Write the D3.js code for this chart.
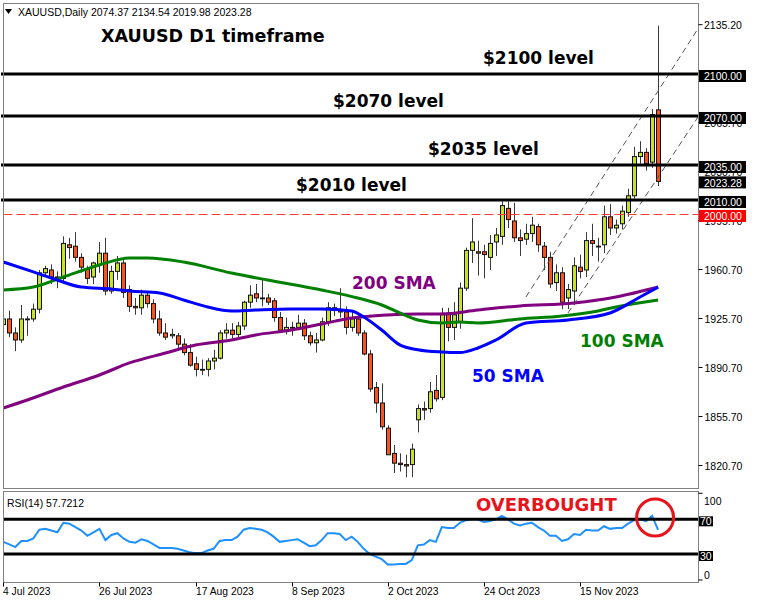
<!DOCTYPE html>
<html><head><meta charset="utf-8">
<script src="https://cdn.jsdelivr.net/npm/d3@7"></script>
<style>body{margin:0;background:#fff}svg{display:block}</style>
</head><body><svg id="c" width="782" height="606"></svg>
<script>
// ---------------- DATA ----------------
const dates = [
"2023-07-04","2023-07-05","2023-07-06","2023-07-07","2023-07-10","2023-07-11","2023-07-12","2023-07-13","2023-07-14","2023-07-17",
"2023-07-18","2023-07-19","2023-07-20","2023-07-21","2023-07-24","2023-07-25","2023-07-26","2023-07-27","2023-07-28","2023-07-31",
"2023-08-01","2023-08-02","2023-08-03","2023-08-04","2023-08-07","2023-08-08","2023-08-09","2023-08-10","2023-08-11","2023-08-14",
"2023-08-15","2023-08-16","2023-08-17","2023-08-18","2023-08-21","2023-08-22","2023-08-23","2023-08-24","2023-08-25","2023-08-28",
"2023-08-29","2023-08-30","2023-08-31","2023-09-01","2023-09-04","2023-09-05","2023-09-06","2023-09-07","2023-09-08","2023-09-11",
"2023-09-12","2023-09-13","2023-09-14","2023-09-15","2023-09-18","2023-09-19","2023-09-20","2023-09-21","2023-09-22","2023-09-25",
"2023-09-26","2023-09-27","2023-09-28","2023-09-29","2023-10-02","2023-10-03","2023-10-04","2023-10-05","2023-10-06","2023-10-09",
"2023-10-10","2023-10-11","2023-10-12","2023-10-13","2023-10-16","2023-10-17","2023-10-18","2023-10-19","2023-10-20","2023-10-23",
"2023-10-24","2023-10-25","2023-10-26","2023-10-27","2023-10-30","2023-10-31","2023-11-01","2023-11-02","2023-11-03","2023-11-06",
"2023-11-07","2023-11-08","2023-11-09","2023-11-10","2023-11-13","2023-11-14","2023-11-15","2023-11-16","2023-11-17","2023-11-20",
"2023-11-21","2023-11-22","2023-11-23","2023-11-24","2023-11-27","2023-11-28","2023-11-29","2023-11-30","2023-12-01","2023-12-04"];

const opens = [1921,1925,1915,1910,1925,1925,1932,1958,1960,1955, 1954,1978,1977,1969,1961,1955,1964,1972,1945,1959,
 1965,1946,1934,1933,1942,1936,1925,1915,1913,1913, 1907,1901,1893,1889,1889,1895,1897,1915,1917,1914,
 1920,1937,1943,1940,1940,1938,1926,1917,1919,1919, 1922,1913,1908,1910,1923,1933,1931,1930,1919,1925,
 1915,1900,1876,1865,1847,1829,1822,1821,1821,1853, 1861,1861,1874,1869,1929,1919,1923,1947,1974,1973,
 1973,1969,1980,1984,2004,1995,1983,1982,1986,1991, 1977,1969,1951,1958,1940,1945,1962,1960,1981,1977,
 1978,1998,1990,1993,2001,2013,2041,2044,2037,2074.37];
const highs = [1927,1931,1919,1935,1927,1936,1960,1963,1964,1959, 1984,1983,1987,1972,1963,1966,1980,1983,1963,1970,
 1967,1949,1940,1946,1945,1939,1931,1922,1918,1915, 1911,1907,1898,1896,1897,1903,1917,1922,1922,1923,
 1938,1949,1950,1953,1943,1940,1930,1926,1923,1928, 1925,1916,1915,1926,1937,1936,1947,1934,1930,1929,
 1917,1903,1880,1879,1849,1835,1829,1828,1836,1864, 1866,1880,1885,1933,1933,1937,1951,1976,1997,1981,
 1978,1985,1990,2009,2009,2008,1989,1993,1998,1993, 1980,1973,1964,1962,1950,1969,1971,1987,1993,1983,
 2006,2007,1996,2006,2018,2048,2052,2047,2075,2134.54];
const lows = [1917,1912,1902,1908,1913,1923,1929,1955,1950,1947, 1952,1968,1966,1958,1950,1950,1958,1942,1943,1953,
 1940,1930,1928,1928,1933,1922,1913,1910,1911,1903, 1899,1891,1884,1885,1884,1889,1896,1911,1911,1912,
 1917,1933,1937,1934,1935,1923,1915,1914,1913,1917, 1910,1906,1901,1909,1920,1927,1926,1914,1916,1913,
 1899,1873,1858,1846,1828,1815,1816,1812,1812,1844, 1853,1858,1866,1867,1909,1910,1918,1945,1965,1956,
 1954,1960,1970,1978,1990,1980,1970,1978,1980,1973, 1960,1947,1945,1932,1932,1935,1954,1955,1970,1966,
 1972,1985,1986,1989,1998,2011,2036,2031,2033,2019.98];
const closes = [1925,1915,1910,1925,1925,1932,1958,1961,1955,1955, 1979,1976,1969,1962,1954,1965,1972,1945,1959,1965,
 1944,1934,1933,1942,1936,1925,1915,1912,1914,1907, 1901,1892,1889,1889,1895,1897,1915,1917,1914,1920,
 1937,1942,1940,1940,1937,1926,1917,1919,1919,1922, 1913,1908,1910,1923,1933,1931,1930,1919,1925,1915,
 1900,1875,1865,1848,1828,1822,1821,1820,1832,1861, 1860,1873,1868,1929,1919,1928,1947,1974,1980,1972,
 1971,1979,1985,2006,1996,1983,1981,1986,1992,1978, 1969,1950,1958,1937,1946,1963,1959,1981,1979,1977,
 1998,1990,1992,2002,2013,2041,2044,2036,2071,2023.28];

const rsiValues = [44,41,38,45,45,48,58,59,57,55, 66,65,61,57,51,55,59,46,52,54,
 48,44,43,47,45,41,37,37,37,36, 34,32,31,31,34,36,45,46,46,50,
 58,60,59,58,55,50,44,45,46,47, 43,39,40,46,54,54,53,46,50,44,
 36,30,27,24,18,18,18.5,18.5,23,40, 41,46,44,61,60,60,66,69,70,70,
 67,68,70,74,70,65,63,65,66,61, 57,51,51,45,47,53,52,58,57,57,
 62,59,60,60,65,69,70,68,74,57.72];

// moving averages: [date, price]
const sma50 = [["2023-07-04",1965.7],["2023-07-11",1958.6],["2023-07-14",1954.3],["2023-07-21",1947.8],["2023-07-28",1946.4],
 ["2023-08-02",1945.0],["2023-08-09",1943.6],["2023-08-15",1938.6],["2023-08-21",1933.6],["2023-08-25",1930.7],
 ["2023-08-31",1931.4],["2023-09-08",1932.1],["2023-09-15",1932.1],["2023-09-22",1930.7],["2023-09-26",1926.4],
 ["2023-09-29",1917.1],["2023-10-04",1906.5],["2023-10-09",1903.0],["2023-10-13",1901.4],["2023-10-18",1901.0],
 ["2023-10-23",1904.3],["2023-10-26",1910.0],["2023-11-02",1922.1],["2023-11-13",1924.3],["2023-11-22",1929.3],
 ["2023-11-29",1940.7],["2023-12-04",1947.8]];
const sma100 = [["2023-07-04",1945.7],["2023-07-11",1947.8],["2023-07-18",1955.0],["2023-07-26",1963.6],["2023-08-02",1968.6],
 ["2023-08-07",1968.6],["2023-08-15",1965.7],["2023-08-25",1957.8],["2023-09-04",1952.8],["2023-09-15",1945.7],
 ["2023-09-25",1940.0],["2023-09-29",1935.0],["2023-10-04",1929.3],["2023-10-09",1924.3],["2023-10-13",1922.1],
 ["2023-10-18",1922.8],["2023-10-23",1922.1],["2023-11-01",1925.0],["2023-11-10",1927.1],["2023-11-20",1930.7],
 ["2023-11-23",1933.6],["2023-12-04",1938.6]];
const sma200 = [["2023-07-04",1861.4],["2023-07-10",1867.1],["2023-07-18",1876.4],["2023-07-26",1885.0],["2023-08-02",1893.6],
 ["2023-08-10",1900.7],["2023-08-17",1906.4],["2023-08-25",1910.0],["2023-08-31",1913.6],["2023-09-08",1917.1],
 ["2023-09-15",1921.4],["2023-09-22",1925.7],["2023-10-02",1927.9],["2023-10-09",1928.6],["2023-10-13",1928.6],
 ["2023-10-23",1931.4],["2023-11-01",1934.3],["2023-11-14",1936.4],["2023-11-23",1940.7],["2023-12-04",1947.8]];

const priceTicks = [1820.7,1855.7,1890.7,1925.7,1960.7,1995.7,2030.7,2065.7];
const topPrice = 2135.20;
const levels = [2100, 2070, 2035, 2010];
const levelTexts = ["$2100 level","$2070 level","$2035 level","$2010 level"];
const dashedLevel = 2000;
const lastPrice = 2023.28;
// channel rays: [bar number, price]
const channelUpper = [[87,1940.7],[115.65,2132.4]];
const channelLower = [[94,1929.3],[115.65,2069.3]];
const timeTicks = ["2023-07-04","2023-07-26","2023-08-17","2023-09-08","2023-10-02","2023-10-24","2023-11-15"];
const timeLabels = ["4 Jul 2023","26 Jul 2023","17 Aug 2023","8 Sep 2023","2 Oct 2023","24 Oct 2023","15 Nov 2023"];
const rsiLevels = [70, 30];
const rsiTicks = [100, 0];

// ---------------- DRAW ----------------
const svg = d3.select("#c");
const L = 3.5, R = 698.5, T = 3.5, B = 488.5, RT = 491.5, RB = 582.5;
const x = d3.scaleLinear().domain([0, dates.length - 1]).range([3.3, 658.1]);
const y = d3.scaleLinear().domain([1820.7, 2135.2]).range([465, 24.7]);
const yr = d3.scaleLinear().domain([0, 100]).range([580, 493.3]);
const di = d => dates.indexOf(d);
const AX = "Liberation Sans, Arial, sans-serif";
const BOLD = "DejaVu Sans, Verdana, sans-serif";

svg.append("rect").attr("width", 782).attr("height", 606).attr("fill", "#fff");
const defs = svg.append("defs");
defs.append("clipPath").attr("id", "mc").append("rect").attr("x", L).attr("y", T).attr("width", R - L).attr("height", B - T);
defs.append("clipPath").attr("id", "rc").append("rect").attr("x", L).attr("y", RT).attr("width", R - L).attr("height", RB - RT);

const g = svg.append("g").attr("clip-path", "url(#mc)");
const bars = dates.map((d, i) => ({ i, o: opens[i], h: highs[i], l: lows[i], c: closes[i] }));
const cx = b => Math.round(x(b.i));
g.selectAll("line.w").data(bars).join("line").attr("class", "w")
  .attr("x1", b => cx(b) + 0.5).attr("x2", b => cx(b) + 0.5)
  .attr("y1", b => y(b.h)).attr("y2", b => y(b.l))
  .attr("stroke", "#3a3a3a").attr("stroke-width", 1);
g.selectAll("rect.b").data(bars).join("rect").attr("class", "b")
  .attr("x", b => cx(b) - 1.5).attr("width", 4)
  .attr("y", b => y(Math.max(b.o, b.c)))
  .attr("height", b => Math.max(0.8, Math.abs(y(b.o) - y(b.c))))
  .attr("fill", b => b.c >= b.o ? "#c8e22a" : "#f6561c")
  .attr("stroke", "#111").attr("stroke-width", 1);

const smaLine = d3.line().x(p => x(di(p[0]))).y(p => y(p[1])).curve(d3.curveMonotoneX);
[[sma200, "#800080"], [sma100, "#008000"], [sma50, "#0000ff"]].forEach(([s, col]) => {
  g.append("path").attr("d", smaLine(s)).attr("fill", "none").attr("stroke", col).attr("stroke-width", 3);
});

// channel
const chLine = d3.line().x(p => x(p[0])).y(p => y(p[1]));
[channelUpper, channelLower].forEach(c => {
  g.append("path").attr("d", chLine(c)).attr("fill", "none").attr("stroke", "#555").attr("stroke-width", 1).attr("stroke-dasharray", "6,4");
});

// levels
levels.forEach(v => {
  svg.append("line").attr("x1", 1).attr("x2", R).attr("y1", y(v)).attr("y2", y(v)).attr("stroke", "#000").attr("stroke-width", 3);
});
svg.append("line").attr("x1", L).attr("x2", R).attr("y1", Math.round(y(dashedLevel)) + 0.5).attr("y2", Math.round(y(dashedLevel)) + 0.5)
  .attr("stroke", "#ff3b3b").attr("stroke-width", 1).attr("stroke-dasharray", "9,4");

// annotations
const ann = (t, px, py, col, size) => svg.append("text").attr("x", px).attr("y", py).text(t)
  .attr("font-family", BOLD).attr("font-weight", "bold").attr("font-size", size || 17).attr("fill", col || "#000");
ann("XAUUSD D1 timeframe", 101, 42, "#000", 17.5);
const levelTextPos = [[483, 64], [333, 107], [428, 155], [296, 191]];
levelTexts.forEach((t, k) => ann(t, levelTextPos[k][0], levelTextPos[k][1]));
ann("200 SMA", 352, 289, "#800080");
ann("100 SMA", 580, 347, "#008000");
ann("50 SMA", 472, 382, "#0000ff");

// header
svg.append("path").attr("d", "M5,9 L12,9 L8.5,14 Z").attr("fill", "#000");
svg.append("text").attr("x", 18).attr("y", 16).attr("font-family", AX).attr("font-size", 10.5)
  .text("XAUUSD,Daily  2074.37 2134.54 2019.98 2023.28");

// RSI panel
const rg = svg.append("g").attr("clip-path", "url(#rc)");
rsiLevels.forEach(v => {
  svg.append("line").attr("x1", L).attr("x2", R).attr("y1", yr(v)).attr("y2", yr(v)).attr("stroke", "#000").attr("stroke-width", 3);
});
rg.append("path").attr("d", d3.line().x((v, i) => x(i)).y(v => yr(v))(rsiValues))
  .attr("fill", "none").attr("stroke", "#1e90ff").attr("stroke-width", 2);
svg.append("text").attr("x", 7).attr("y", 507).attr("font-family", AX).attr("font-size", 10.5).text("RSI(14) 57.7212");
ann("OVERBOUGHT", 476, 511, "#e8141c", 18);
svg.append("circle").attr("cx", x(dates.length - 1) - 3).attr("cy", 517.5).attr("r", 18.5)
  .attr("fill", "none").attr("stroke", "#e8141c").attr("stroke-width", 3);

// frames
svg.append("rect").attr("x", L).attr("y", T).attr("width", R - L).attr("height", B - T).attr("fill", "none").attr("stroke", "#808080");
svg.append("rect").attr("x", L).attr("y", RT).attr("width", R - L).attr("height", RB - RT).attr("fill", "none").attr("stroke", "#808080");

// price axis
const yAxis = d3.axisRight(y).tickValues(priceTicks).tickSize(4).tickPadding(2).tickFormat(d3.format(".2f"));
const ya = svg.append("g").attr("transform", `translate(${R},0)`).call(yAxis);
ya.select(".domain").remove();
ya.selectAll("text").attr("font-family", AX).attr("font-size", 10.5).attr("fill", "#000").attr("dy", "0.42em");
ya.selectAll("line").attr("stroke", "#000");
const topG = svg.append("g");
topG.append("line").attr("x1", R).attr("x2", R + 4).attr("y1", y(topPrice)).attr("y2", y(topPrice)).attr("stroke", "#000");
topG.append("text").attr("x", 704).attr("y", y(topPrice) + 4.5).attr("font-family", AX).attr("font-size", 10.5).text(d3.format(".2f")(topPrice));

const box = (v, yy, bg) => {
  svg.append("rect").attr("x", 699).attr("y", yy - 4).attr("width", 47).attr("height", 12).attr("fill", bg);
  svg.append("text").attr("x", 704).attr("y", yy + 6.5).attr("font-family", AX).attr("font-size", 10.5).attr("fill", "#fff").text(d3.format(".2f")(v));
};
levels.forEach(v => box(v, y(v), "#000"));
box(lastPrice, y(lastPrice) - 1, "#000");
box(dashedLevel, y(dashedLevel), "#ff0000");

// RSI axis
rsiTicks.forEach(v => {
  svg.append("line").attr("x1", R).attr("x2", R + 4).attr("y1", yr(v)).attr("y2", yr(v)).attr("stroke", "#000");
  svg.append("text").attr("x", 704).attr("y", v === 100 ? 505 : 579).attr("font-family", AX).attr("font-size", 10.5).text(v);
});
rsiLevels.forEach(v => {
  svg.append("rect").attr("x", 699).attr("y", yr(v) - 3).attr("width", 14).attr("height", 10).attr("fill", "#000");
  svg.append("text").attr("x", 700).attr("y", yr(v) + 6).attr("font-family", AX).attr("font-size", 10.5).attr("fill", "#fff").text(v);
});

// time axis
const xa = svg.append("g");
timeTicks.forEach((d, k) => {
  const px = Math.round(x(di(d))) + 0.5;
  xa.append("line").attr("x1", px).attr("x2", px).attr("y1", RB).attr("y2", RB + 4).attr("stroke", "#000");
  xa.append("text").attr("x", px - 0.5).attr("y", 595).attr("font-family", AX).attr("font-size", 10.3).text(timeLabels[k]);
});
</script></body></html>
